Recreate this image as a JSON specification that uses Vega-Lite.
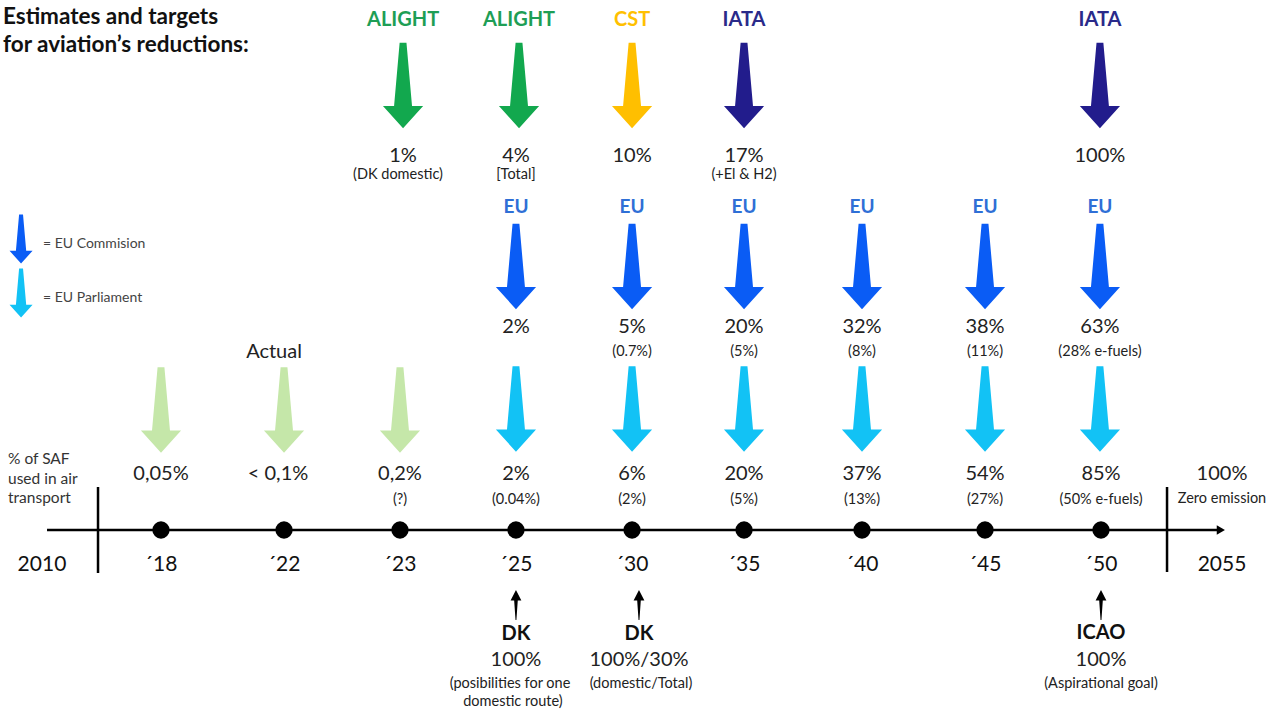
{
  "$schema": "https://vega.github.io/schema/vega-lite/v6.json",
  "width": 1278,
  "height": 711,
  "autosize": "none",
  "padding": 0,
  "background": "white",
  "config": {"view": {"stroke": null}, "font": "Lato"},
  "datasets": {
    "lines": [
      {"part": "timeline", "pos": 0.03, "pos2": 10.013, "y": 530, "y2": 530},
      {"part": "start", "pos": 0.464, "pos2": 0.464, "y": 487, "y2": 573},
      {"part": "end", "pos": 9.562, "pos2": 9.562, "y": 487, "y2": 572}
    ],
    "tip": [{"pos": 10.02, "y": 530}],
    "dots": [
      {"year": "2018", "pos": 1, "y": 530},
      {"year": "2022", "pos": 2.047, "y": 530},
      {"year": "2023", "pos": 3.034, "y": 530},
      {"year": "2025", "pos": 4.021, "y": 530},
      {"year": "2030", "pos": 5.009, "y": 530},
      {"year": "2035", "pos": 5.962, "y": 530},
      {"year": "2040", "pos": 6.966, "y": 530},
      {"year": "2045", "pos": 8.013, "y": 530},
      {"year": "2050", "pos": 9.0, "y": 530}
    ],
    "arrows": [
      {"group": "ALIGHT", "pos": 3.06, "y": 85.5},
      {"group": "ALIGHT", "pos": 4.047, "y": 85.5},
      {"group": "CST", "pos": 5.009, "y": 85.5},
      {"group": "IATA", "pos": 5.962, "y": 85.5},
      {"group": "IATA", "pos": 8.991, "y": 85.5},
      {"group": "EU Commission", "pos": 4.021, "y": 266.5},
      {"group": "EU Commission", "pos": 5.009, "y": 266.5},
      {"group": "EU Commission", "pos": 5.962, "y": 266.5},
      {"group": "EU Commission", "pos": 6.966, "y": 266.5},
      {"group": "EU Commission", "pos": 8.013, "y": 266.5},
      {"group": "EU Commission", "pos": 8.991, "y": 266.5},
      {"group": "EU Parliament", "pos": 4.021, "y": 409},
      {"group": "EU Parliament", "pos": 5.009, "y": 409},
      {"group": "EU Parliament", "pos": 5.962, "y": 409},
      {"group": "EU Parliament", "pos": 6.966, "y": 409},
      {"group": "EU Parliament", "pos": 8.013, "y": 409},
      {"group": "EU Parliament", "pos": 8.991, "y": 409},
      {"group": "Actual", "pos": 1.0, "y": 410},
      {"group": "Actual", "pos": 2.047, "y": 410},
      {"group": "Actual", "pos": 3.034, "y": 410}
    ],
    "legendArrows": [
      {"group": "EU Commission", "pos": -0.191, "y": 239},
      {"group": "EU Parliament", "pos": -0.191, "y": 293}
    ],
    "upArrows": [
      {"who": "DK", "pos": 4.021, "y": 605},
      {"who": "DK", "pos": 5.068, "y": 605},
      {"who": "ICAO", "pos": 9.0, "y": 605}
    ],
    "texts": [
      {"kind": "title", "text": "Estimates and targets", "pos": -0.345, "y": 17},
      {"kind": "title", "text": "for aviation’s reductions:", "pos": -0.345, "y": 45},
      {"kind": "source", "group": "ALIGHT", "text": "ALIGHT", "pos": 3.06, "y": 19.5},
      {"kind": "source", "group": "ALIGHT", "text": "ALIGHT", "pos": 4.047, "y": 19.5},
      {"kind": "source", "group": "CST", "text": "CST", "pos": 5.009, "y": 19.5},
      {"kind": "source", "group": "IATA", "text": "IATA", "pos": 5.962, "y": 19.5},
      {"kind": "source", "group": "IATA", "text": "IATA", "pos": 8.991, "y": 19.5},
      {"kind": "value", "text": "1%", "pos": 3.06, "y": 156},
      {"kind": "value", "text": "4%", "pos": 4.021, "y": 156},
      {"kind": "value", "text": "10%", "pos": 5.009, "y": 156},
      {"kind": "value", "text": "17%", "pos": 5.962, "y": 156},
      {"kind": "value", "text": "100%", "pos": 8.991, "y": 156},
      {"kind": "note", "text": "(DK domestic)", "pos": 3.017, "y": 175},
      {"kind": "note", "text": "[Total]", "pos": 4.021, "y": 175},
      {"kind": "note", "text": "(+El & H2)", "pos": 5.962, "y": 175},
      {"kind": "eu", "text": "EU", "pos": 4.021, "y": 207},
      {"kind": "eu", "text": "EU", "pos": 5.009, "y": 207},
      {"kind": "eu", "text": "EU", "pos": 5.962, "y": 207},
      {"kind": "eu", "text": "EU", "pos": 6.966, "y": 207},
      {"kind": "eu", "text": "EU", "pos": 8.013, "y": 207},
      {"kind": "eu", "text": "EU", "pos": 8.991, "y": 207},
      {"kind": "value", "text": "2%", "pos": 4.021, "y": 327},
      {"kind": "value", "text": "5%", "pos": 5.009, "y": 327},
      {"kind": "value", "text": "20%", "pos": 5.962, "y": 327},
      {"kind": "value", "text": "32%", "pos": 6.966, "y": 327},
      {"kind": "value", "text": "38%", "pos": 8.013, "y": 327},
      {"kind": "value", "text": "63%", "pos": 8.991, "y": 327},
      {"kind": "note", "text": "(0.7%)", "pos": 5.009, "y": 352},
      {"kind": "note", "text": "(5%)", "pos": 5.962, "y": 352},
      {"kind": "note", "text": "(8%)", "pos": 6.966, "y": 352},
      {"kind": "note", "text": "(11%)", "pos": 8.013, "y": 352},
      {"kind": "note", "text": "(28% e-fuels)", "pos": 8.991, "y": 352},
      {"kind": "value", "text": "Actual", "pos": 1.962, "y": 352},
      {"kind": "value", "text": "0,05%", "pos": 1.0, "y": 474},
      {"kind": "value", "text": "< 0,1%", "pos": 1.996, "y": 474},
      {"kind": "value", "text": "0,2%", "pos": 3.034, "y": 474},
      {"kind": "value", "text": "2%", "pos": 4.021, "y": 474},
      {"kind": "value", "text": "6%", "pos": 5.009, "y": 474},
      {"kind": "value", "text": "20%", "pos": 5.962, "y": 474},
      {"kind": "value", "text": "37%", "pos": 6.966, "y": 474},
      {"kind": "value", "text": "54%", "pos": 8.013, "y": 474},
      {"kind": "value", "text": "85%", "pos": 9.0, "y": 474},
      {"kind": "value", "text": "100%", "pos": 10.03, "y": 474},
      {"kind": "note", "text": "(?)", "pos": 3.034, "y": 500},
      {"kind": "note", "text": "(0.04%)", "pos": 4.021, "y": 500},
      {"kind": "note", "text": "(2%)", "pos": 5.009, "y": 500},
      {"kind": "note", "text": "(5%)", "pos": 5.962, "y": 500},
      {"kind": "note", "text": "(13%)", "pos": 6.966, "y": 500},
      {"kind": "note", "text": "(27%)", "pos": 8.013, "y": 500},
      {"kind": "note", "text": "(50% e-fuels)", "pos": 9.0, "y": 500},
      {"kind": "small", "text": "Zero emission", "pos": 10.03, "y": 499},
      {"kind": "smallLeft", "text": "% of SAF", "pos": -0.302, "y": 459},
      {"kind": "smallLeft", "text": "used in air", "pos": -0.302, "y": 479},
      {"kind": "smallLeft", "text": "transport", "pos": -0.302, "y": 498},
      {"kind": "year", "text": "2010", "pos": -0.013, "y": 565},
      {"kind": "year", "text": "´18", "pos": 1.0, "y": 565},
      {"kind": "year", "text": "´22", "pos": 2.047, "y": 565},
      {"kind": "year", "text": "´23", "pos": 3.034, "y": 565},
      {"kind": "year", "text": "´25", "pos": 4.021, "y": 565},
      {"kind": "year", "text": "´30", "pos": 5.009, "y": 565},
      {"kind": "year", "text": "´35", "pos": 5.962, "y": 565},
      {"kind": "year", "text": "´40", "pos": 6.966, "y": 565},
      {"kind": "year", "text": "´45", "pos": 8.013, "y": 565},
      {"kind": "year", "text": "´50", "pos": 9.0, "y": 565},
      {"kind": "year", "text": "2055", "pos": 10.03, "y": 565},
      {"kind": "bottomBold", "text": "DK", "pos": 4.021, "y": 634},
      {"kind": "bottomBold", "text": "DK", "pos": 5.068, "y": 634},
      {"kind": "bottomBold", "text": "ICAO", "pos": 9.0, "y": 633},
      {"kind": "value", "text": "100%", "pos": 4.021, "y": 659.5},
      {"kind": "value", "text": "100%/30%", "pos": 5.068, "y": 659.5},
      {"kind": "value", "text": "100%", "pos": 9.0, "y": 659.5},
      {"kind": "note", "text": "(posibilities for one", "pos": 3.97, "y": 683.5},
      {"kind": "note", "text": "domestic route)", "pos": 3.995, "y": 701.5},
      {"kind": "note", "text": "(domestic/Total)", "pos": 5.085, "y": 683.5},
      {"kind": "note", "text": "(Aspirational goal)", "pos": 9.0, "y": 683.5},
      {"kind": "legend", "text": "= EU Commision", "pos": -0.004, "y": 244},
      {"kind": "legend", "text": "= EU Parliament", "pos": -0.004, "y": 298}
    ]
  },
  "encoding": {
    "x": {"field": "pos", "type": "quantitative", "scale": {"domain": [-0.3702, 10.5064], "nice": false, "zero": false}, "axis": null},
    "y": {"field": "y", "type": "quantitative", "scale": {"domain": [0, 711], "reverse": true, "nice": false, "zero": false}, "axis": null}
  },
  "layer": [
    {
      "data": {"name": "lines"},
      "mark": {"type": "rule", "color": "#000000", "strokeWidth": 2.5},
      "encoding": {"x2": {"field": "pos2"}, "y2": {"field": "y2"}}
    },
    {
      "data": {"name": "tip"},
      "mark": {"type": "point", "shape": "triangle-right", "filled": true, "color": "#000000", "size": 90, "opacity": 1},
      "encoding": {}
    },
    {
      "data": {"name": "dots"},
      "mark": {"type": "point", "shape": "circle", "filled": true, "color": "#000000", "size": 300, "opacity": 1},
      "encoding": {}
    },
    {
      "data": {"name": "arrows"},
      "mark": {"type": "point", "shape": "M -0.08 -1 L 0.08 -1 L 0.21 0.48 L 0.47 0.48 L 0 1 L -0.47 0.48 L -0.21 0.48 Z", "filled": true, "size": 7300, "opacity": 1, "strokeWidth": 0},
      "encoding": {
        "color": {"field": "group", "type": "nominal", "legend": null,
          "scale": {"domain": ["ALIGHT", "CST", "IATA", "EU Commission", "EU Parliament", "Actual"],
                    "range": ["#12a84e", "#ffbf00", "#221c8c", "#0a5cf5", "#12c2f5", "#c5e7a9"]}}
      }
    },
    {
      "data": {"name": "legendArrows"},
      "mark": {"type": "point", "shape": "M -0.08 -1 L 0.08 -1 L 0.21 0.48 L 0.47 0.48 L 0 1 L -0.47 0.48 L -0.21 0.48 Z", "filled": true, "size": 2401, "opacity": 1, "strokeWidth": 0},
      "encoding": {
        "color": {"field": "group", "type": "nominal", "legend": null,
          "scale": {"domain": ["EU Commission", "EU Parliament"], "range": ["#0a5cf5", "#12c2f5"]}}
      }
    },
    {
      "data": {"name": "upArrows"},
      "mark": {"type": "point", "shape": "M 0 -1 L 0.36 -0.3 L 0.12 -0.3 L 0.03 1 L -0.03 1 L -0.12 -0.3 L -0.36 -0.3 Z", "filled": true, "color": "#000000", "size": 900, "opacity": 1, "strokeWidth": 0},
      "encoding": {}
    },
    {
      "data": {"name": "texts"},
      "transform": [{"filter": "datum.kind === 'title'"}],
      "mark": {"type": "text", "align": "left", "baseline": "middle", "fontSize": 22.5, "fontWeight": "bold", "color": "#111111"},
      "encoding": {"text": {"field": "text"}}
    },
    {
      "data": {"name": "texts"},
      "transform": [{"filter": "datum.kind === 'source'"}],
      "mark": {"type": "text", "align": "center", "baseline": "middle", "fontSize": 20, "fontWeight": "bold"},
      "encoding": {
        "text": {"field": "text"},
        "color": {"field": "group", "type": "nominal", "legend": null,
          "scale": {"domain": ["ALIGHT", "CST", "IATA"], "range": ["#1e9e55", "#ffc000", "#2a2a8a"]}}
      }
    },
    {
      "data": {"name": "texts"},
      "transform": [{"filter": "datum.kind === 'eu'"}],
      "mark": {"type": "text", "align": "center", "baseline": "middle", "fontSize": 19, "fontWeight": "bold", "color": "#2f6fd6"},
      "encoding": {"text": {"field": "text"}}
    },
    {
      "data": {"name": "texts"},
      "transform": [{"filter": "datum.kind === 'value'"}],
      "mark": {"type": "text", "align": "center", "baseline": "middle", "fontSize": 20, "color": "#222222"},
      "encoding": {"text": {"field": "text"}}
    },
    {
      "data": {"name": "texts"},
      "transform": [{"filter": "datum.kind === 'note'"}],
      "mark": {"type": "text", "align": "center", "baseline": "middle", "fontSize": 14.5, "color": "#222222"},
      "encoding": {"text": {"field": "text"}}
    },
    {
      "data": {"name": "texts"},
      "transform": [{"filter": "datum.kind === 'small'"}],
      "mark": {"type": "text", "align": "center", "baseline": "middle", "fontSize": 14.5, "color": "#222222"},
      "encoding": {"text": {"field": "text"}}
    },
    {
      "data": {"name": "texts"},
      "transform": [{"filter": "datum.kind === 'smallLeft'"}],
      "mark": {"type": "text", "align": "left", "baseline": "middle", "fontSize": 15.5, "color": "#333333"},
      "encoding": {"text": {"field": "text"}}
    },
    {
      "data": {"name": "texts"},
      "transform": [{"filter": "datum.kind === 'year'"}],
      "mark": {"type": "text", "align": "center", "baseline": "middle", "fontSize": 21, "color": "#111111"},
      "encoding": {"text": {"field": "text"}}
    },
    {
      "data": {"name": "texts"},
      "transform": [{"filter": "datum.kind === 'bottomBold'"}],
      "mark": {"type": "text", "align": "center", "baseline": "middle", "fontSize": 20, "fontWeight": "bold", "color": "#111111"},
      "encoding": {"text": {"field": "text"}}
    },
    {
      "data": {"name": "texts"},
      "transform": [{"filter": "datum.kind === 'legend'"}],
      "mark": {"type": "text", "align": "left", "baseline": "middle", "fontSize": 14, "color": "#444444"},
      "encoding": {"text": {"field": "text"}}
    }
  ],
  "resolve": {"scale": {"color": "independent"}}
}
